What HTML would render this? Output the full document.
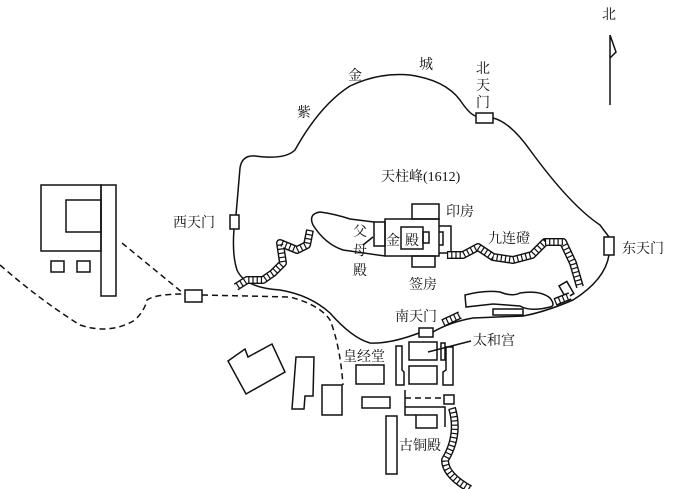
<!DOCTYPE html>
<html><head><meta charset="utf-8"><style>
html,body{margin:0;padding:0;background:#fff;}
svg{display:block}
text{font-family:"Liberation Serif","Noto Serif CJK SC",serif;font-size:14px;fill:#111}
</style></head><body>
<svg width="673" height="489" viewBox="0 0 673 489" xmlns="http://www.w3.org/2000/svg">
<g fill="none" stroke="#111" stroke-width="1.5">
<!-- wall -->
<path d="M236,215 L240,168 Q242,155 255,156 Q285,160 295,150 Q320,105 350,86 Q380,72 410,75 Q445,80 460,100 Q470,115 476,116 M493,118 Q510,122 530,150 Q570,205 600,225 L609,237 M609,255 Q605,280 573,300 Q545,312 523,316 L473,318 Q450,322 433,332 M419,333 Q390,344 370,343 Q352,338 330,313 Q310,295 280,290 Q245,288 237,270 Q232,255 234,229"/>
<!-- gates -->
<rect x="476" y="113" width="17" height="10" fill="#fff"/>
<rect x="230" y="215" width="9" height="14" fill="#fff"/>
<rect x="604" y="237" width="10" height="18" fill="#fff"/>
<rect x="419" y="328" width="14" height="9" fill="#fff"/>
<rect x="185" y="290" width="17" height="12" fill="#fff"/>
<!-- north arrow -->
<path d="M610,35 L610,105 M610,35 L616,52 L610,58"/>
<!-- left building -->
<rect x="41" y="185" width="60" height="66"/>
<rect x="66" y="200" width="35" height="32"/>
<rect x="101" y="185" width="15" height="111"/>
<rect x="51" y="261" width="13" height="11"/>
<rect x="77" y="261" width="13" height="11"/>
<!-- dashed -->
<g stroke-dasharray="6,4">
<path d="M0,265 Q40,300 80,325 Q110,335 135,320 Q145,310 147,300 Q155,294 185,294"/>
<path d="M122,243 L183,293"/>
<path d="M202,295 L290,297 Q320,305 330,320 Q340,345 343,385"/>
<path d="M405,398 L444,398"/>
</g>
<!-- mountain top outline -->
<path d="M385,256 L343,250 Q325,244 313,225 Q308,214 320,212 Q335,214 350,219 L374,222"/>
<!-- jindian -->
<rect x="385" y="219" width="54" height="37"/>
<rect x="412" y="204" width="27" height="15"/>
<rect x="412" y="256" width="23" height="11"/>
<rect x="374" y="222" width="11" height="24"/>
<rect x="401" y="227" width="22" height="22"/>
<rect x="423" y="232" width="6" height="11"/>
<path d="M439,226 L451,226 L451,253 L439,253 M439,232 L443,232 L443,245 L439,245"/>
<path d="M363,245 L373,237"/>
<!-- lower piece -->
<path d="M465,295 Q485,290 500,292 Q512,297 520,293 Q540,290 550,298 Q556,306 550,307 Q530,312 520,306 L493,304 L466,307 Z"/>
<rect x="493" y="309" width="30" height="6"/>
<rect x="562" y="283" width="9" height="14" transform="rotate(-30 566 290)"/>
<!-- south buildings -->
<path d="M228,361 L245,349 L248,357 L272,344 L285,372 L246,394 Z"/>
<path d="M296,357 L314,357 L313,396 L305,396 L304,409 L292,409 Z"/>
<rect x="322" y="385" width="20" height="30"/>
<rect x="356" y="365" width="28" height="19"/>
<rect x="362" y="397" width="28" height="11"/>
<rect x="386" y="416" width="11" height="58"/>
<path d="M396,346 L402,346 L402,370 L404,372 L404,385 L396,385 Z"/>
<rect x="409" y="342" width="28" height="18"/>
<rect x="409" y="366" width="28" height="18"/>
<rect x="441" y="343" width="4" height="17"/>
<path d="M446,347 L453,347 L453,385 L443,385 L443,372 L446,370 Z"/>
<path d="M405,390 L405,415 L416,415 M405,407 L445,407 L445,427"/>
<rect x="444" y="395" width="10" height="9"/>
<rect x="416" y="415" width="21" height="13"/>
<path d="M471,341 L428,352"/>
</g>
<!-- stairs -->
<g fill="none" stroke-linejoin="round">
<g id="st">
<path id="s1" d="M447,255 L463,255 L478,247 L493,257 L513,260 L532,255 L545,242 L563,242 L573,263 L580,287"/>
<path id="s2" d="M310,230 L307,245 L297,250 L280,243 L283,263 L273,273 L263,280 L247,280 L236,287"/>
<path id="s3" d="M452,408 Q460,435 445,460 Q445,475 470,489"/>
<path id="s4" d="M443,323 L460,315"/>
<path id="s5" d="M555,302 L570,296"/>
</g>
<g stroke="#111" stroke-width="8"><use href="#s1"/><use href="#s2"/><use href="#s3"/><use href="#s4"/><use href="#s5"/></g>
<g stroke="#fff" stroke-width="5.2"><use href="#s1"/><use href="#s2"/><use href="#s3"/><use href="#s4"/><use href="#s5"/></g>
<g stroke="#111" stroke-width="6" stroke-dasharray="1.2,3"><use href="#s1"/><use href="#s2"/><use href="#s3"/><use href="#s4"/><use href="#s5"/></g>
</g>
<!-- labels -->
<text x="602" y="19">北</text>
<text x="297" y="117">紫</text>
<text x="348" y="80">金</text>
<text x="419" y="69">城</text>
<text x="476" y="73">北</text>
<text x="476" y="90">天</text>
<text x="476" y="107">门</text>
<text x="381" y="181">天柱峰(1612)</text>
<text x="173" y="227">西天门</text>
<text x="446" y="216">印房</text>
<text x="488" y="243">九连磴</text>
<text x="622" y="253">东天门</text>
<text x="409" y="289">签房</text>
<text x="353" y="236">父</text>
<text x="353" y="255">母</text>
<text x="353" y="275">殿</text>
<text x="386" y="245">金</text>
<text x="405" y="245">殿</text>
<text x="395" y="321">南天门</text>
<text x="343" y="361">皇经堂</text>
<text x="473" y="345">太和宫</text>
<text x="399" y="450">古铜殿</text>
</svg>
</body></html>
